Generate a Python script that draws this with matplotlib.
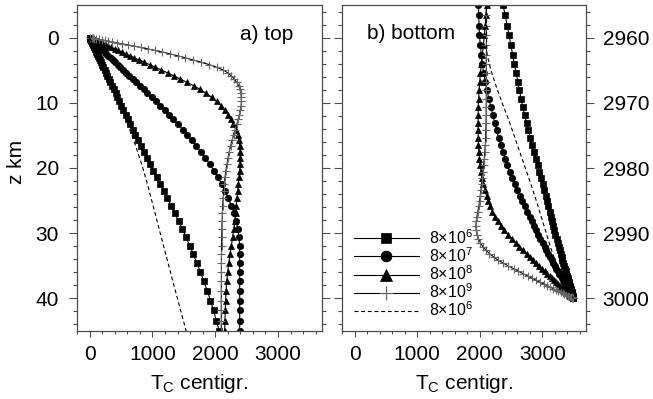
import matplotlib
matplotlib.use('Agg')
import matplotlib.pyplot as plt
from matplotlib.ticker import MultipleLocator

plt.rcParams['font.family'] = ['Liberation Sans', 'DejaVu Sans']
plt.rcParams['mathtext.fontset'] = 'custom'
plt.rcParams['mathtext.rm'] = 'Liberation Sans'
plt.rcParams['mathtext.it'] = 'Liberation Sans:italic'

# ── a) top boundary layer: depth z (km), temperature T (centigr.) ──
z_top = [0, 0.06, 0.10, 0.14, 0.20, 0.27, 0.35, 0.44, 0.55, 0.67,
         0.81, 0.96, 1.12, 1.31, 1.51, 1.73, 1.96, 2.22, 2.49, 2.78,
         3.10, 3.43, 3.78, 4.16, 4.55, 4.97, 5.41, 5.87, 6.36, 6.87,
         7.40, 7.96, 8.54, 9.14, 9.77, 10.43, 11.11, 11.81, 12.55, 13.31,
         14.10, 14.91, 15.75, 16.62, 17.52, 18.45, 19.40, 20.39, 21.40, 22.45,
         23.52, 24.63, 25.76, 26.93, 28.12, 29.35, 30.61, 31.90, 33.22, 34.58,
         35.97, 37.39, 38.84, 40.33, 41.85, 43.41, 45.00]
t_top_6 = [0, 3, 5, 7, 10, 13, 17, 21, 27, 32,
           39, 47, 54, 64, 73, 84, 95, 108, 121, 135,
           150, 166, 183, 202, 221, 241, 262, 285, 308, 333,
           359, 386, 414, 443, 474, 506, 540, 575, 612, 650,
           689, 731, 774, 819, 866, 915, 964, 1016, 1069, 1124,
           1182, 1240, 1299, 1358, 1418, 1477, 1536, 1594, 1652, 1709,
           1765, 1820, 1874, 1925, 1973, 2019, 2062]
t_top_7 = [0, 6, 11, 15, 22, 29, 38, 48, 59, 72,
           87, 104, 121, 141, 163, 187, 212, 240, 269, 300,
           335, 370, 408, 449, 491, 537, 584, 634, 687, 742,
           799, 860, 922, 987, 1055, 1124, 1194, 1262, 1334, 1408,
           1484, 1553, 1624, 1696, 1770, 1843, 1912, 1979, 2042, 2101,
           2157, 2209, 2257, 2300, 2334, 2360, 2378, 2388, 2390, 2390,
           2390, 2390, 2390, 2390, 2390, 2390, 2390]
t_top_8 = [0, 14, 23, 32, 46, 62, 81, 101, 127, 154,
           186, 221, 258, 301, 347, 398, 451, 511, 573, 639,
           713, 789, 869, 957, 1047, 1143, 1241, 1340, 1445, 1551,
           1660, 1760, 1855, 1942, 2021, 2096, 2154, 2206, 2253, 2291,
           2326, 2356, 2378, 2391, 2397, 2399, 2396, 2390, 2380, 2368,
           2358, 2347, 2336, 2325, 2312, 2296, 2277, 2258, 2237, 2217,
           2198, 2183, 2173, 2166, 2160, 2155, 2150]
t_top_9 = [0, 33, 55, 76, 109, 147, 191, 240, 300, 365,
           441, 523, 610, 713, 815, 925, 1040, 1159, 1280, 1400,
           1523, 1648, 1778, 1908, 2025, 2128, 2199, 2257, 2306, 2343,
           2375, 2396, 2410, 2415, 2416, 2413, 2400, 2384, 2364, 2343,
           2320, 2294, 2268, 2245, 2223, 2204, 2187, 2170, 2156, 2143,
           2134, 2126, 2119, 2114, 2110, 2106, 2103, 2101, 2100, 2099,
           2099, 2098, 2098, 2097, 2097, 2097, 2097]
z_top_dash = [0, 2.5, 5, 7.5, 10, 12.5, 15, 17.5, 20, 22.5, 25, 27.5, 30,
              32.5, 35, 37.5, 40, 42.5, 45]
t_top_dash = [0, 121, 242, 362, 475, 578, 675, 765, 848, 922, 990, 1058,
              1125, 1193, 1261, 1329, 1398, 1468, 1538]

# ── b) bottom boundary layer (listed upwards from the base at 3000 km) ──
z_bot = [3000.00, 2999.94, 2999.90, 2999.86, 2999.80, 2999.73, 2999.65,
         2999.56, 2999.45, 2999.33, 2999.19, 2999.04, 2998.88, 2998.69,
         2998.49, 2998.27, 2998.04, 2997.78, 2997.51, 2997.22, 2996.90,
         2996.57, 2996.22, 2995.84, 2995.45, 2995.03, 2994.59, 2994.13,
         2993.64, 2993.13, 2992.60, 2992.04, 2991.46, 2990.86, 2990.23,
         2989.57, 2988.89, 2988.19, 2987.45, 2986.69, 2985.90, 2985.09,
         2984.25, 2983.38, 2982.48, 2981.55, 2980.60, 2979.61, 2978.60,
         2977.55, 2976.48, 2975.37, 2974.24, 2973.07, 2971.88, 2970.65,
         2969.39, 2968.10, 2966.78, 2965.42, 2964.03, 2962.61, 2961.16,
         2959.67, 2958.15, 2956.59, 2955.00]
t_bot_6 = [3500, 3498, 3497, 3496, 3494, 3492, 3490, 3487, 3484, 3480,
           3476, 3472, 3467, 3461, 3455, 3449, 3441, 3433, 3424, 3416,
           3406, 3396, 3386, 3375, 3364, 3351, 3338, 3324, 3309, 3294,
           3279, 3263, 3246, 3229, 3212, 3194, 3177, 3159, 3140, 3120,
           3099, 3077, 3054, 3031, 3007, 2982, 2955, 2929, 2901, 2870,
           2840, 2810, 2780, 2750, 2720, 2689, 2662, 2636, 2610, 2583,
           2555, 2527, 2500, 2471, 2440, 2408, 2375]
t_bot_7 = [3500, 3496, 3494, 3492, 3488, 3484, 3479, 3474, 3467, 3460,
           3451, 3442, 3433, 3421, 3409, 3396, 3382, 3367, 3351, 3333,
           3314, 3294, 3273, 3250, 3227, 3202, 3177, 3152, 3125, 3097,
           3068, 3037, 3005, 2972, 2937, 2904, 2870, 2835, 2798, 2760,
           2720, 2680, 2642, 2604, 2564, 2523, 2481, 2442, 2409, 2374,
           2339, 2302, 2271, 2242, 2212, 2181, 2147, 2120, 2092, 2064,
           2044, 2028, 2011, 1997, 1991, 1986, 1980]
t_bot_8 = [3500, 3493, 3489, 3485, 3478, 3470, 3461, 3451, 3439, 3426,
           3411, 3394, 3376, 3355, 3333, 3309, 3284, 3256, 3226, 3194,
           3159, 3123, 3084, 3042, 2999, 2953, 2905, 2855, 2805, 2751,
           2695, 2636, 2576, 2516, 2455, 2394, 2339, 2289, 2243, 2204,
           2170, 2138, 2110, 2084, 2061, 2038, 2023, 2009, 1997, 1987,
           1980, 1977, 1975, 1976, 1977, 1979, 1983, 1991, 2001, 2013,
           2028, 2043, 2060, 2075, 2089, 2100, 2110]
t_bot_9 = [3500, 3487, 3479, 3470, 3457, 3442, 3425, 3405, 3382, 3356,
           3326, 3294, 3259, 3218, 3175, 3128, 3079, 3023, 2965, 2903,
           2836, 2768, 2697, 2620, 2543, 2461, 2379, 2294, 2223, 2157,
           2102, 2049, 2013, 1980, 1958, 1946, 1941, 1946, 1957, 1971,
           1987, 1999, 2010, 2020, 2030, 2040, 2051, 2062, 2073, 2083,
           2090, 2095, 2099, 2102, 2104, 2105, 2106, 2106, 2107, 2107,
           2107, 2108, 2108, 2108, 2108, 2108, 2108]
z_bot_dash = [2955, 2957.5, 2960, 2962.5, 2965, 2967.5, 2970, 2972.5, 2975,
              2977.5, 2980, 2982.5, 2985, 2987.5, 2990, 2992.5, 2995, 2997.5,
              3000]
t_bot_dash = [2110, 2110, 2110, 2118, 2180, 2265, 2360, 2460, 2550, 2640,
              2730, 2820, 2905, 2985, 3065, 3145, 3235, 3345, 3500]

labels = ['8×10$^{6}$', '8×10$^{7}$', '8×10$^{8}$', '8×10$^{9}$',
          '8×10$^{6}$']

SPINE = '0.3'
FS = 15

# marker, size, edge width, edge colour
marks = [('s', 4.6, 0.5, 'k'), ('o', 4.6, 0.5, 'k'), ('^', 5.0, 0.5, 'k'),
         ('+', 6.0, 0.8, '0.4')]


def draw_panel(ax, z, series, z_dash, t_dash):
    handles = []
    for t, (m, ms, mew, mec) in zip(series, marks):
        h, = ax.plot(t, z, '-', color='k', lw=0.8, marker=m, ms=ms,
                     mew=mew, mec=mec, mfc='k')
        handles.append(h)
    h, = ax.plot(t_dash, z_dash, color='k', lw=0.8, dashes=(3.5, 2.5))
    handles.append(h)

    ax.set_xlim(-200, 3700)
    ax.xaxis.set_major_locator(MultipleLocator(1000))
    ax.xaxis.set_minor_locator(MultipleLocator(200))
    ax.yaxis.set_major_locator(MultipleLocator(10))
    ax.yaxis.set_minor_locator(MultipleLocator(2))
    ax.tick_params(axis='x', which='major', direction='out', length=4,
                   width=0.8, pad=6, labelsize=FS, color=SPINE)
    ax.tick_params(axis='x', which='minor', direction='out', length=2,
                   width=0.8, color=SPINE)
    ax.tick_params(axis='y', which='major', direction='out', length=6,
                   width=0.8, pad=7, labelsize=FS, color=SPINE,
                   left=True, right=True)
    ax.tick_params(axis='y', which='minor', direction='out', length=3,
                   width=0.8, color=SPINE, left=True, right=True)
    for sp in ax.spines.values():
        sp.set_color(SPINE)
        sp.set_linewidth(0.9)
    ax.set_xlabel('T$_{\\mathrm{C}}$ centigr.', fontsize=FS, va='center')
    ax.xaxis.set_label_coords(0.5, -0.16)
    return handles


fig = plt.figure(figsize=(6.53, 3.99), dpi=100)
ax_a = fig.add_axes([77 / 653, 68 / 399, 245 / 653, 326 / 399])
ax_b = fig.add_axes([342 / 653, 68 / 399, 244 / 653, 326 / 399])

draw_panel(ax_a, z_top, [t_top_6, t_top_7, t_top_8, t_top_9],
           z_top_dash, t_top_dash)
ax_a.set_ylim(45, -5)
ax_a.set_ylabel('z km', fontsize=FS, va='center')
ax_a.yaxis.set_label_coords(-0.245, 0.52)
ax_a.text(0.667, 0.893, 'a) top', transform=ax_a.transAxes, fontsize=FS,
          va='baseline')

hb = draw_panel(ax_b, z_bot, [t_bot_6, t_bot_7, t_bot_8, t_bot_9],
                z_bot_dash, t_bot_dash)
ax_b.set_ylim(3005, 2955)
ax_b.tick_params(axis='y', which='both', labelleft=False, labelright=True,
                 pad=6)
ax_b.text(0.101, 0.896, 'b) bottom', transform=ax_b.transAxes, fontsize=FS,
          va='baseline')

ax_b.legend(hb, labels, loc='upper left', bbox_to_anchor=(0.048, 0.315),
            frameon=False, fontsize=11.5, handlelength=4.1,
            handletextpad=0.6, labelspacing=-0.04, borderpad=0,
            borderaxespad=0, markerscale=1.7)

fig.savefig('out.png', dpi=100)
